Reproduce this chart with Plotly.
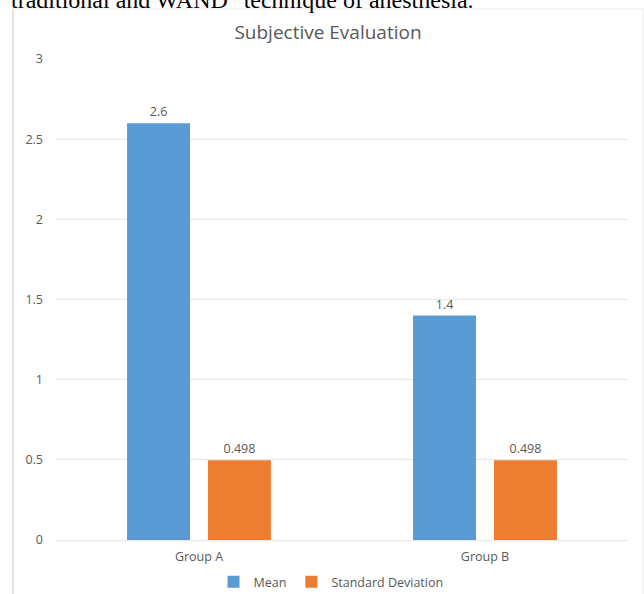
import plotly.graph_objects as go

# Chart data
groups = ["Group A", "Group B"]
mean_values = [2.6, 1.4]
sd_values = [0.498, 0.498]
y_ticks = [0, 0.5, 1, 1.5, 2, 2.5, 3]

W, H = 644, 594
L, R, T, B = 56, 16, 59, 54
plot_w = W - L - R
plot_h = H - T - B

def px_x(px):
    return (px - L) / plot_w

def px_y(py):
    return (H - B - py) / plot_h

text_color = "#595959"
font_family = "Open Sans, Noto Sans, sans-serif"
label_size = 12.5

fig = go.Figure()
fig.add_trace(go.Bar(
    name="Mean", x=groups, y=mean_values,
    marker=dict(color="#5B9BD5", line=dict(width=0)),
    text=[f"{v:g}" for v in mean_values], textposition="outside",
    textfont=dict(size=label_size, color=text_color), cliponaxis=False,
))
fig.add_trace(go.Bar(
    name="Standard Deviation", x=groups, y=sd_values,
    marker=dict(color="#ED7D31", line=dict(width=0)),
    text=[f"{v:g}" for v in sd_values], textposition="outside",
    textfont=dict(size=label_size, color=text_color), cliponaxis=False,
))

border = "#D9D9D9"
shapes = [
    dict(type="line", xref="paper", yref="paper",
         x0=px_x(13), x1=px_x(13), y0=px_y(9), y1=px_y(H + 5),
         line=dict(color=border, width=1.5)),
    dict(type="line", xref="paper", yref="paper",
         x0=px_x(13), x1=px_x(643), y0=px_y(9), y1=px_y(9),
         line=dict(color="#EBEBEB", width=1)),
    dict(type="line", xref="paper", yref="paper",
         x0=px_x(643), x1=px_x(643), y0=px_y(9), y1=px_y(H + 5),
         line=dict(color="#EBEBEB", width=1)),
]

fig.update_layout(
    width=W, height=H,
    margin=dict(l=L, r=R, t=T, b=B, autoexpand=False),
    paper_bgcolor="white", plot_bgcolor="white",
    font=dict(family=font_family, color=text_color, size=label_size),
    title=dict(text="Subjective Evaluation", x=328 / W, xanchor="center",
               y=1 - 32 / H, yanchor="middle",
               font=dict(size=19, color=text_color, family=font_family)),
    barmode="group", bargap=0.434, bargroupgap=0.222,
    showlegend=True,
    legend=dict(orientation="h", x=px_x(331), xanchor="center",
                y=px_y(582), yanchor="middle",
                font=dict(size=label_size, color=text_color),
                itemwidth=30, traceorder="normal"),
    xaxis=dict(showgrid=False, showline=False, zeroline=False,
               tickfont=dict(size=label_size, color=text_color), ticks="",
               ticklabelstandoff=7),
    yaxis=dict(range=[0, 3], tickvals=y_ticks, ticktext=[f"{v:g}" for v in y_ticks],
               showgrid=True, gridcolor="#E6E6E6", gridwidth=1,
               zeroline=True, zerolinecolor="#E6E6E6", zerolinewidth=1,
               showline=False, ticks="", ticklabelstandoff=12,
               tickfont=dict(size=label_size, color=text_color)),
    shapes=shapes,
    annotations=[
        dict(text='traditional and WAND" technique of anesthesia.',
             xref="paper", yref="paper", x=px_x(9), xanchor="left",
             y=px_y(0), yanchor="middle", showarrow=False,
             font=dict(family="Liberation Serif, Times New Roman, serif",
                       size=24, color="#000000")),
    ],
)

fig.write_html("out.html")
